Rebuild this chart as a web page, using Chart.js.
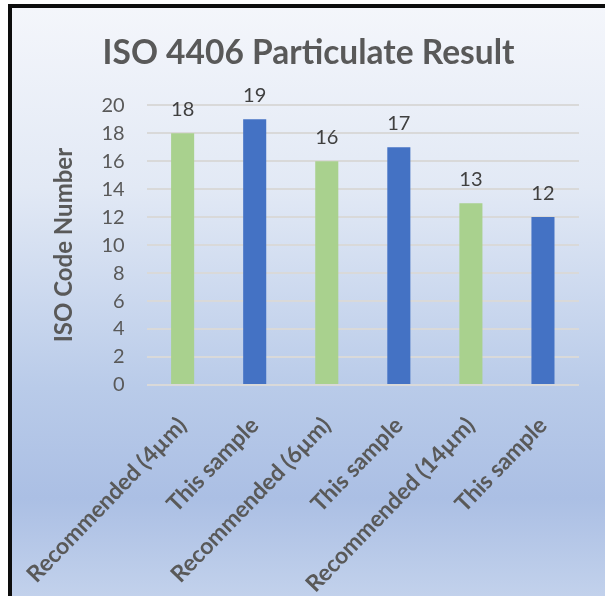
<!DOCTYPE html>
<html>
<head>
<meta charset="utf-8">
<script src="https://cdn.jsdelivr.net/npm/chart.js@4/dist/chart.umd.min.js"></script>
<style>
  html, body { margin:0; padding:0; background:#fff; overflow:hidden; }
  body { width:605px; height:596px; position:relative; }
  /* chart box: border only shows on left/top, rest runs off the page */
  .frame {
    position:absolute; left:8px; top:4px; width:640px; height:640px;
    border:4px solid #0d0d0d; box-sizing:border-box;
    background:linear-gradient(to bottom, #f4f6fb 0px, #e2e9f5 180px, #b9cbe9 380px, #abbfe4 490px, #c3d2ec 592px);
  }
  #wrap { position:absolute; left:0; top:0; width:605px; height:596px; }
</style>
</head>
<body>
<div class="frame"></div>
<div id="wrap"><canvas id="c"></canvas></div>
<script>
// values
const categories = ["Recommended (4\u00b5m)", "This sample", "Recommended (6\u00b5m)", "This sample", "Recommended (14\u00b5m)", "This sample"];
const isoCodes = [18, 19, 16, 17, 13, 12];
const barColors = ["#a9d18e", "#4472c4", "#a9d18e", "#4472c4", "#a9d18e", "#4472c4"];
const yTicks = [0, 2, 4, 6, 8, 10, 12, 14, 16, 18, 20];

const FONT = "Lato, 'Open Sans', sans-serif";
const GREY = "#595959";

// value labels above each bar (no datalabels plugin offline)
const valueLabels = {
  id: "valueLabels",
  afterDatasetsDraw(chart){
    const ctx = chart.ctx;
    const meta = chart.getDatasetMeta(0);
    ctx.save();
    ctx.font = "20px " + FONT;
    ctx.fillStyle = "#404040";
    ctx.textAlign = "center";
    ctx.textBaseline = "alphabetic";
    meta.data.forEach((bar, i)=>{
      ctx.fillText(String(chart.data.datasets[0].data[i]), bar.x, bar.y - 17);
    });
    ctx.restore();
  }
};

new Chart(document.getElementById("c"), {
  type: "bar",
  data: {
    labels: categories,
    datasets: [{
      data: isoCodes,
      backgroundColor: barColors,
      borderWidth: 0,
      categoryPercentage: 0.64,
      barPercentage: 0.5
    }]
  },
  options: {
    responsive: true,
    maintainAspectRatio: false,
    animation: false,
    layout: { padding: { left: 38, right: 26, top: 0, bottom: 0 } },
    plugins: {
      legend: { display: false },
      tooltip: { enabled: false },
      title: {
        display: true,
        text: "ISO 4406 Particulate Result",
        color: GREY,
        font: { family: FONT, size: 33.5, weight: "bold" },
        padding: { top: 33, bottom: 32 }
      }
    },
    scales: {
      x: {
        grid: { display: false },
        border: { display: false },
        ticks: {
          color: GREY,
          font: { family: FONT, size: 23, weight: "bold" },
          minRotation: 46,
          maxRotation: 46,
          autoSkip: false,
          padding: 19
        },
        afterFit(s){ s.height = 211; }
      },
      y: {
        min: 0,
        max: 20,
        afterBuildTicks(s){ s.ticks = yTicks.map(v=>({value:v})); },
        grid: { color: "#d9d9d9", lineWidth: 2, drawTicks: false },
        border: { display: false },
        ticks: {
          color: GREY,
          font: { family: FONT, size: 20 },
          padding: 22
        },
        title: {
          display: true,
          text: "ISO Code Number",
          color: GREY,
          font: { family: FONT, size: 24, weight: "bold" },
          padding: { top: 10, bottom: 0 }
        },
        afterFit(s){ s.width = 107; }
      }
    }
  },
  plugins: [valueLabels]
});
</script>
</body>
</html>
